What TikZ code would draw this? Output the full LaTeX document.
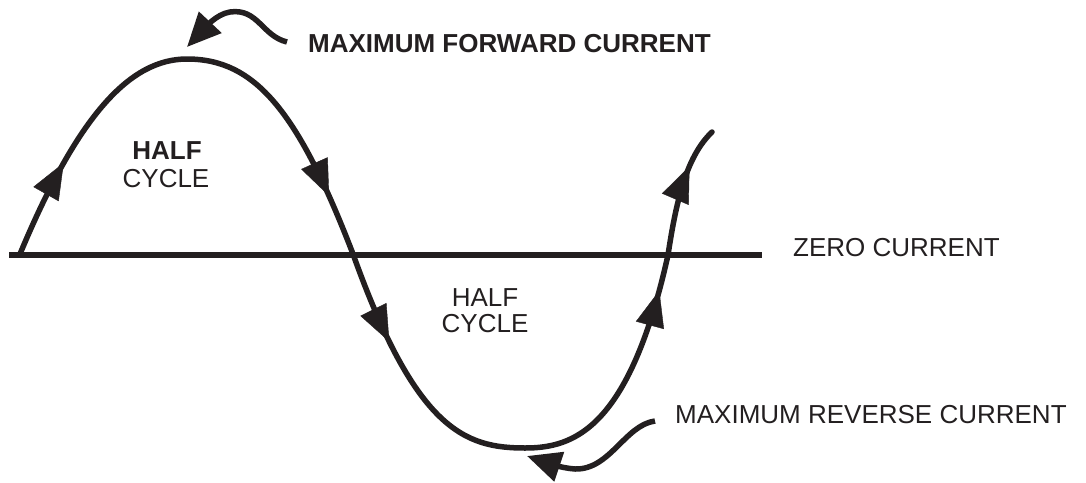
\documentclass[tikz,border=0pt]{standalone}
\usepackage{fontspec}
\setmainfont{Liberation Sans}
\usetikzlibrary{arrows.meta,decorations.markings}
\definecolor{ink}{HTML}{231F20}
\tikzset{
  wave/.style={draw=ink, line width=5.5pt, line cap=round},
  axisline/.style={draw=ink, line width=6pt},
  callout/.style={draw=ink, line width=5.5pt, -{Triangle[length=34pt,width=30pt]}},
  tri/.tip={Triangle[length=36pt,width=29pt]},
  arrowmark/.style={decoration={markings, mark=at position #1 with {\arrow[ink]{tri}}}, decorate},
  lbl/.style={font=\fontsize{26pt}{30pt}\selectfont, text=ink, inner sep=0pt},
}
\begin{document}
\begin{tikzpicture}[x=1pt,y=-1pt]
\useasboundingbox (0,0) rectangle (1086,482);
% key points
\coordinate (s0) at (20,254);
\coordinate (pk) at (187,59);
\coordinate (c1) at (353,254);
\coordinate (tr) at (525,448);
\coordinate (c2) at (668,255);
\coordinate (e) at (712,132);
\coordinate (axL) at (9,255);
\coordinate (axR) at (762,255);
% axis
\draw[axisline] (axL) -- (axR);
% wave
\draw[wave] (s0) .. controls (78,115) and (130,59) .. (pk)
  .. controls (255,59) and (298,111) .. (c1)
  .. controls (416,430) and (465,448) .. (tr)
  .. controls (573,448) and (629,430) .. (c2)
  .. controls (677,195) and (688,155) .. (e);
% arrowheads along wave
\path[arrowmark=0.375] (s0) .. controls (78,115) and (130,59) .. (pk);
\path[arrowmark=0.77] (pk) .. controls (255,59) and (298,111) .. (c1);
\path[arrowmark=0.34] (c1) .. controls (416,430) and (465,448) .. (tr);
\path[arrowmark=0.86] (tr) .. controls (573,448) and (629,430) .. (c2);
\path[arrowmark=0.69] (c2) .. controls (677,195) and (688,155) .. (e);
% labels
\node[lbl, anchor=base west, font=\fontsize{26pt}{30pt}\selectfont\bfseries] (maxf) at (308,52) {MAXIMUM FORWARD CURRENT};
\node[lbl, anchor=base west] (zero) at (793,256) {ZERO CURRENT};
\node[lbl, anchor=base west] (maxr) at (675,423) {MAXIMUM REVERSE CURRENT};
\node[lbl, anchor=base, font=\fontsize{26pt}{30pt}\selectfont\bfseries] (h1) at (167,159) {HALF};
\node[lbl, anchor=base] (cy1) at (166,187) {CYCLE};
\node[lbl, anchor=base] (h2) at (485,306) {HALF};
\node[lbl, anchor=base] (cy2) at (485,332) {CYCLE};
% callouts
\coordinate (ft) at (287,42);
\coordinate (fh) at (187,47);
\coordinate (rt) at (655,421);
\coordinate (rh) at (527,456);
\draw[callout] (ft) .. controls (262,36) and (258,8) .. (230,12) .. controls (216,14) and (203,30) .. (fh);
\draw[callout] (rt) .. controls (625,425) and (610,470) .. (575,469) .. controls (560,468) and (545,462) .. (rh);
\end{tikzpicture}
\end{document}
